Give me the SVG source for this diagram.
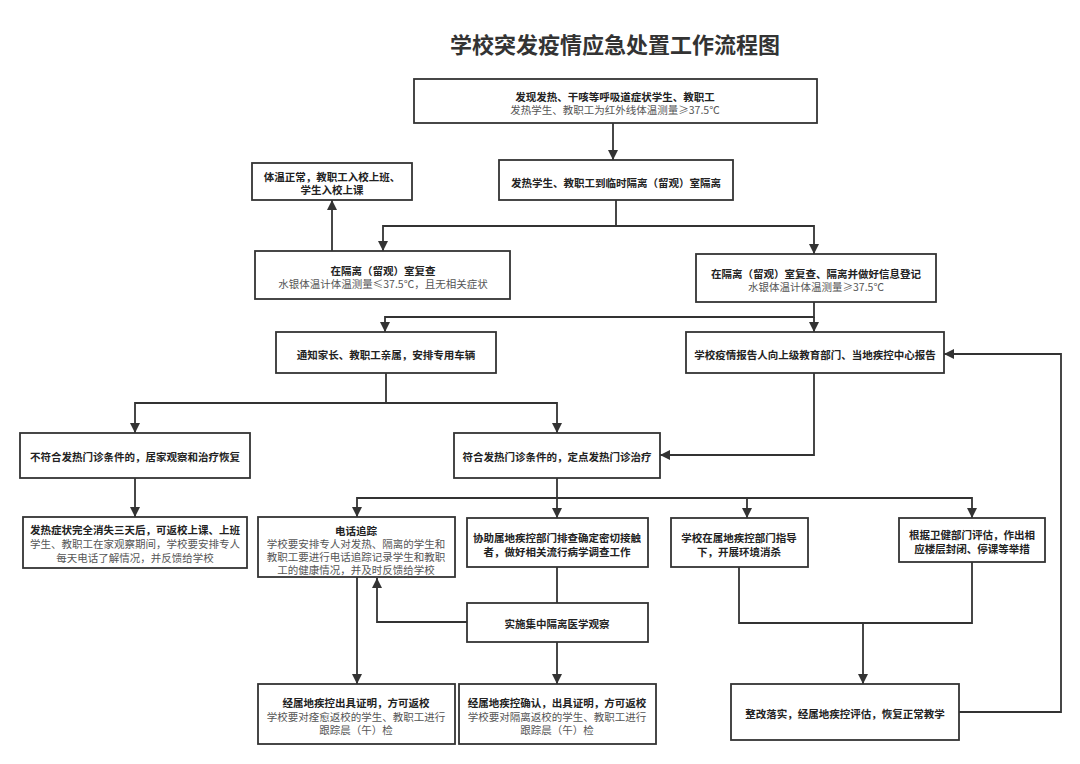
<svg xmlns="http://www.w3.org/2000/svg" width="1080" height="764" viewBox="0 0 1080 764">
<style>
.box{fill:#fff;stroke:#333;stroke-width:1.8}
.ln{fill:none;stroke:#333;stroke-width:1.8}
text{font-family:"Noto Sans CJK SC","Microsoft YaHei",sans-serif;font-size:10.5px;text-anchor:middle;dominant-baseline:central}
.b{font-weight:bold;fill:#222}
.r{fill:#555}
.title{font-size:22px;font-weight:bold;fill:#333}
</style>
<defs>
<marker id="ah" markerUnits="userSpaceOnUse" markerWidth="10" markerHeight="12" refX="10" refY="5" orient="auto">
<path d="M0,0 L10,5 L0,10 Z" fill="#333"/>
</marker>
</defs>
<rect width="1080" height="764" fill="#fff"/>
<text class="title" x="615" y="43">学校突发疫情应急处置工作流程图</text>

<g id="connectors">
<path class="ln" d="M613,123 V160" marker-end="url(#ah)"/>
<path class="ln" d="M616,200 V226 H383 V251" marker-end="url(#ah)"/>
<path class="ln" d="M616,226 H814 V254" marker-end="url(#ah)"/>
<path class="ln" d="M332,251 V200" marker-end="url(#ah)"/>
<path class="ln" d="M814,302 V317 H385 V332" marker-end="url(#ah)"/>
<path class="ln" d="M814,317 V332" marker-end="url(#ah)"/>
<path class="ln" d="M386,373 V403 H135 V433" marker-end="url(#ah)"/>
<path class="ln" d="M386,403 H557 V433" marker-end="url(#ah)"/>
<path class="ln" d="M814,373 V455 H660" marker-end="url(#ah)"/>
<path class="ln" d="M135,478 V517" marker-end="url(#ah)"/>
<path class="ln" d="M557,478 V498 H357 V517" marker-end="url(#ah)"/>
<path class="ln" d="M557,498 V518" marker-end="url(#ah)"/>
<path class="ln" d="M557,498 H747 V518" marker-end="url(#ah)"/>
<path class="ln" d="M747,498 H972 V518" marker-end="url(#ah)"/>
<path class="ln" d="M557,567 V603"/>
<path class="ln" d="M467,622 H377 V578" marker-end="url(#ah)"/>
<path class="ln" d="M357,577 V684" marker-end="url(#ah)"/>
<path class="ln" d="M557,642 V684" marker-end="url(#ah)"/>
<path class="ln" d="M739,567 V623 H972 V562"/>
<path class="ln" d="M863,623 V684" marker-end="url(#ah)"/>
<path class="ln" d="M959,712 H1061 V354 H944" marker-end="url(#ah)"/>
</g>

<g id="n1"><rect class="box" x="414" y="79" width="403" height="44"/>
<text class="b" x="615" y="96">发现发热、干咳等呼吸道症状学生、教职工</text>
<text class="r" x="615" y="109">发热学生、教职工为红外线体温测量≥37.5℃</text></g>

<g id="n2"><rect class="box" x="499" y="160" width="234" height="40"/>
<text class="b" x="616" y="182">发热学生、教职工到临时隔离（留观）室隔离</text></g>

<g id="n3"><rect class="box" x="252" y="163" width="160" height="37"/>
<text class="b" x="332" y="176">体温正常，教职工入校上班、</text>
<text class="b" x="332" y="189">学生入校上课</text></g>

<g id="n4"><rect class="box" x="255" y="251" width="255" height="48"/>
<text class="b" x="383" y="270">在隔离（留观）室复查</text>
<text class="r" x="383" y="283">水银体温计体温测量≤37.5℃，且无相关症状</text></g>

<g id="n5"><rect class="box" x="696" y="254" width="240" height="48"/>
<text class="b" x="816" y="273">在隔离（留观）室复查、隔离并做好信息登记</text>
<text class="r" x="816" y="286">水银体温计体温测量≥37.5℃</text></g>

<g id="n6"><rect class="box" x="276" y="332" width="220" height="41"/>
<text class="b" x="386" y="354">通知家长、教职工亲属，安排专用车辆</text></g>

<g id="n7"><rect class="box" x="686" y="332" width="258" height="41"/>
<text class="b" x="815" y="354">学校疫情报告人向上级教育部门、当地疾控中心报告</text></g>

<g id="n8"><rect class="box" x="20" y="433" width="230" height="45"/>
<text class="b" x="135" y="456">不符合发热门诊条件的，居家观察和治疗恢复</text></g>

<g id="n9"><rect class="box" x="454" y="433" width="206" height="45"/>
<text class="b" x="557" y="456">符合发热门诊条件的，定点发热门诊治疗</text></g>

<g id="n10"><rect class="box" x="23" y="517" width="224" height="51"/>
<text class="b" x="135" y="529">发热症状完全消失三天后，可返校上课、上班</text>
<text class="r" x="135" y="543">学生、教职工在家观察期间，学校要安排专人</text>
<text class="r" x="135" y="557">每天电话了解情况，并反馈给学校</text></g>

<g id="n11"><rect class="box" x="258" y="517" width="197" height="60"/>
<text class="b" x="356" y="530">电话追踪</text>
<text class="r" x="356" y="543">学校要安排专人对发热、隔离的学生和</text>
<text class="r" x="356" y="556">教职工要进行电话追踪记录学生和教职</text>
<text class="r" x="356" y="569">工的健康情况，并及时反馈给学校</text></g>

<g id="n12"><rect class="box" x="467" y="518" width="181" height="49"/>
<text class="b" x="557" y="537">协助属地疾控部门排查确定密切接触</text>
<text class="b" x="557" y="551">者，做好相关流行病学调查工作</text></g>

<g id="n13"><rect class="box" x="671" y="518" width="137" height="49"/>
<text class="b" x="739" y="537">学校在属地疾控部门指导</text>
<text class="b" x="739" y="551">下，开展环境消杀</text></g>

<g id="n14"><rect class="box" x="899" y="518" width="146" height="44"/>
<text class="b" x="972" y="534">根据卫健部门评估，作出相</text>
<text class="b" x="972" y="548">应楼层封闭、停课等举措</text></g>

<g id="n15"><rect class="box" x="467" y="603" width="181" height="39"/>
<text class="b" x="557" y="623">实施集中隔离医学观察</text></g>

<g id="n16"><rect class="box" x="258" y="684" width="197" height="60"/>
<text class="b" x="356" y="702">经属地疾控出具证明，方可返校</text>
<text class="r" x="356" y="716">学校要对痊愈返校的学生、教职工进行</text>
<text class="r" x="356" y="729">跟踪晨（午）检</text></g>

<g id="n17"><rect class="box" x="459" y="684" width="197" height="60"/>
<text class="b" x="557" y="702">经属地疾控确认，出具证明，方可返校</text>
<text class="r" x="557" y="716">学校要对隔离返校的学生、教职工进行</text>
<text class="r" x="557" y="729">跟踪晨（午）检</text></g>

<g id="n18"><rect class="box" x="731" y="684" width="228" height="56"/>
<text class="b" x="845" y="713">整改落实，经属地疾控评估，恢复正常教学</text></g>
</svg>
